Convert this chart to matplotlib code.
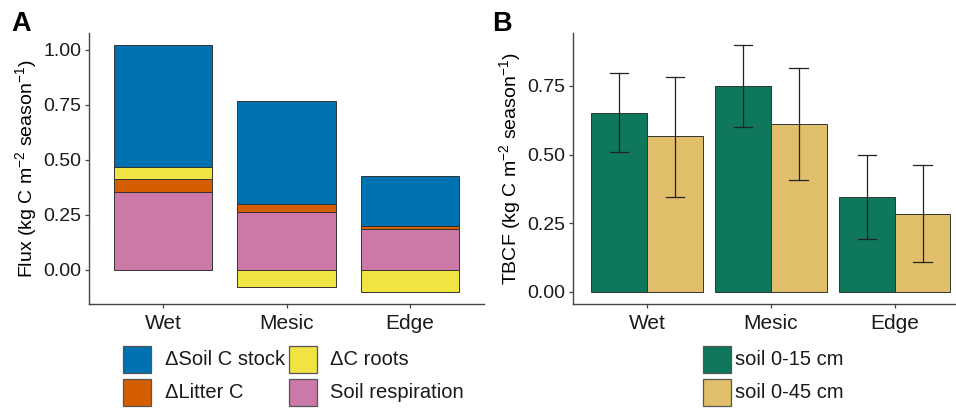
import matplotlib
matplotlib.use("Agg")
import matplotlib.pyplot as plt
from matplotlib.patches import Rectangle
import numpy as np

plt.rcParams['font.family'] = ['Liberation Sans', 'DejaVu Sans']
plt.rcParams['mathtext.fontset'] = 'custom'
plt.rcParams['mathtext.rm'] = 'Liberation Sans'
plt.rcParams['mathtext.it'] = 'Liberation Sans:italic'

# ---- data ----
sites = ["Wet", "Mesic", "Edge"]
soil_resp = [0.356, 0.264, 0.188]
litter_c = [0.056, 0.036, 0.013]
roots_c = [0.055, -0.076, -0.100]
soil_stock = [0.556, 0.468, 0.228]

tbcf_15 = [0.653, 0.749, 0.347]
tbcf_15_lo = [0.510, 0.600, 0.194]
tbcf_15_hi = [0.798, 0.899, 0.499]
tbcf_45 = [0.567, 0.610, 0.283]
tbcf_45_lo = [0.347, 0.407, 0.110]
tbcf_45_hi = [0.784, 0.814, 0.462]

legend_a = ["\u0394Soil C stock", "\u0394Litter C", "\u0394C roots", "Soil respiration"]
legend_b = ["soil 0-15 cm", "soil 0-45 cm"]

c_blue, c_orange, c_yellow, c_pink = "#0072B2", "#D55E00", "#F0E442", "#CC79A7"
c_green, c_tan = "#0E775C", "#E1BE6A"
edge = "#333333"

W, H = 956, 409
fig = plt.figure(figsize=(W / 100, H / 100), dpi=100)

def frac(l, t, r, b):
    return [l / W, (H - b) / H, (r - l) / W, (b - t) / H]

def style(ax):
    for s in ["top", "right"]:
        ax.spines[s].set_visible(False)
    for s in ["left", "bottom"]:
        ax.spines[s].set_color("#444444")
        ax.spines[s].set_linewidth(1.0)
    ax.tick_params(axis="both", colors="#444444", length=3, width=0.9,
                   labelsize=14, labelcolor="#1a1a1a", pad=2.5)
    ax.tick_params(axis="x", labelsize=15, pad=4)

# ---- Panel A ----
axA = fig.add_axes(frac(89, 33, 484, 304))
x = np.arange(1, len(sites) + 1)
w = 0.8
kw = dict(width=w, edgecolor=edge, linewidth=0.7)
pos_base = np.zeros(len(sites))
neg_base = np.zeros(len(sites))
for vals, col in [(soil_resp, c_pink), (litter_c, c_orange), (roots_c, c_yellow), (soil_stock, c_blue)]:
    vals = np.array(vals)
    bottoms = np.where(vals >= 0, pos_base, neg_base)
    axA.bar(x, vals, bottom=bottoms, color=col, **kw)
    pos_base = pos_base + np.where(vals >= 0, vals, 0)
    neg_base = neg_base + np.where(vals < 0, vals, 0)
axA.set_xlim(0.4, 3.6)
axA.set_ylim(-0.155, 1.077)
axA.set_yticks([0, 0.25, 0.5, 0.75, 1.0])
axA.set_yticklabels(["0.00", "0.25", "0.50", "0.75", "1.00"])
axA.set_xticks(x)
axA.set_xticklabels(sites)
style(axA)
axA.set_ylabel(r"Flux (kg C m$^{-2}$ season$^{-1}$)", fontsize=14, labelpad=3)

# ---- Panel B ----
axB = fig.add_axes(frac(572.7, 32.7, 969, 304))
bw = 0.45
xb15 = x - bw / 2
xb45 = x + bw / 2
axB.bar(xb15, tbcf_15, width=bw, color=c_green, edgecolor=edge, linewidth=0.7)
axB.bar(xb45, tbcf_45, width=bw, color=c_tan, edgecolor=edge, linewidth=0.7)
for xs, lo, hi in [(xb15, tbcf_15_lo, tbcf_15_hi), (xb45, tbcf_45_lo, tbcf_45_hi)]:
    for xi, l, h in zip(xs, lo, hi):
        axB.plot([xi, xi], [l, h], color="#222222", lw=0.9)
        axB.plot([xi - 0.075, xi + 0.075], [l, l], color="#222222", lw=0.9)
        axB.plot([xi - 0.075, xi + 0.075], [h, h], color="#222222", lw=0.9)
axB.set_xlim(0.4, 3.6)
axB.set_ylim(-0.0437, 0.944)
axB.set_yticks([0, 0.25, 0.5, 0.75])
axB.set_yticklabels(["0.00", "0.25", "0.50", "0.75"])
axB.set_xticks(x)
axB.set_xticklabels(sites)
style(axB)
axB.set_ylabel(r"TBCF (kg C m$^{-2}$ season$^{-1}$)", fontsize=14, labelpad=3)

# ---- panel tags ----
fig.text(11 / W, 1 - 31 / H, "A", fontsize=19.5, fontweight="bold", va="baseline")
fig.text(492 / W, 1 - 31 / H, "B", fontsize=19.5, fontweight="bold", va="baseline")

# ---- legends ----
def key(l, t, color, label, tx):
    r = Rectangle((l / W, 1 - (t + 27) / H), 28 / W, 27 / H, transform=fig.transFigure,
                  facecolor=color, edgecolor="#555555", linewidth=0.9)
    fig.patches.append(r)
    fig.text(tx / W, 1 - (t + 13.5) / H, label, fontsize=14.5, va="center", ha="left",
             color="#1a1a1a")

key(123, 346, c_blue, legend_a[0], 165)
key(123, 379, c_orange, legend_a[1], 165)
key(289, 346, c_yellow, legend_a[2], 330)
key(289, 379, c_pink, legend_a[3], 330)
key(703, 346, c_green, legend_b[0], 735)
key(703, 379, c_tan, legend_b[1], 735)

fig.savefig("out.png", dpi=100)
